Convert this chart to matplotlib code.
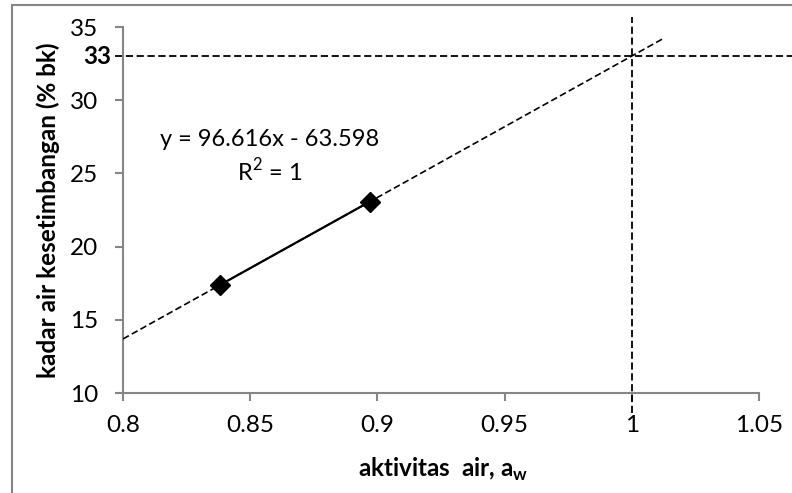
import numpy as np
import matplotlib.pyplot as plt
from matplotlib.patches import Rectangle

plt.rcParams["font.family"] = ["Lato", "DejaVu Sans"]
plt.rcParams["mathtext.fontset"] = "custom"
plt.rcParams["mathtext.rm"] = "Lato"
plt.rcParams["mathtext.bf"] = "Lato:bold"

# data
aw = [0.838, 0.897]
moisture = [17.37, 23.07]
slope = 96.616
intercept = -63.598
trend_x = [0.8, 1.012]
x_ticks = [0.8, 0.85, 0.9, 0.95, 1.0, 1.05]
x_labels = ["0.8", "0.85", "0.9", "0.95", "1", "1.05"]
y_ticks = [10, 15, 20, 25, 30, 35]
aw_target = 1.0
moisture_target = 33

gray = "#868686"

fig = plt.figure(figsize=(7.92, 4.93), dpi=100)
ax = fig.add_axes([0.1553, 0.2028, 0.8030, 0.7424])

# outer chart border
fig.patches.append(Rectangle((12 / 792, -0.05), 1.1, 1 - 5 / 493 + 0.05,
                             transform=fig.transFigure, fill=False,
                             edgecolor=gray, linewidth=1.5))

ax.plot(aw, moisture, color="black", linewidth=1.6, marker="D",
        markersize=10.5, zorder=3)

tx = np.array(trend_x)
ax.plot(tx, slope * tx + intercept, color="black", linewidth=1.2,
        linestyle=(0, (4, 2)), zorder=4)

ax.plot([aw_target, aw_target], [8.63, 35.68], color="black", linewidth=1.3,
        linestyle=(0, (4, 2)), clip_on=False)
ax.plot([0.7969, 1.07], [moisture_target, moisture_target], color="black",
        linewidth=1.3, linestyle=(0, (4, 2)), clip_on=False)

ax.set_xlim(0.8, 1.05)
ax.set_ylim(10, 35)
ax.set_xticks(x_ticks)
ax.set_xticklabels(x_labels)
ax.set_yticks(y_ticks)

for side in ["top", "right"]:
    ax.spines[side].set_visible(False)
for side in ["left", "bottom"]:
    ax.spines[side].set_color(gray)
    ax.spines[side].set_linewidth(1.5)
ax.tick_params(axis="both", direction="out", length=6, width=1.5,
               color=gray, labelsize=17.5)
ax.tick_params(axis="x", pad=10)
ax.tick_params(axis="y", pad=12)

ax.text(0.7955, moisture_target, "33", fontsize=17.5, fontweight="bold",
        ha="right", va="center")

ax.text(0.8578, 27.35, "y = 96.616x - 63.598", fontsize=17,
        ha="center", va="center")
ax.text(0.8578, 25.2, "R$^{2}$ = 1", fontsize=17, ha="center", va="center")

fig.text(443 / 792, 1 - 477 / 493, "aktivitas  air, a$_\\mathbf{w}$",
         fontsize=17.5, fontweight="bold", ha="center", va="baseline")
fig.text(48 / 792, 1 - 210 / 493, "kadar air kesetimbangan (% bk)",
         fontsize=17.5, fontweight="bold", rotation=90,
         ha="center", va="center")

plt.savefig("out.png", dpi=100)
